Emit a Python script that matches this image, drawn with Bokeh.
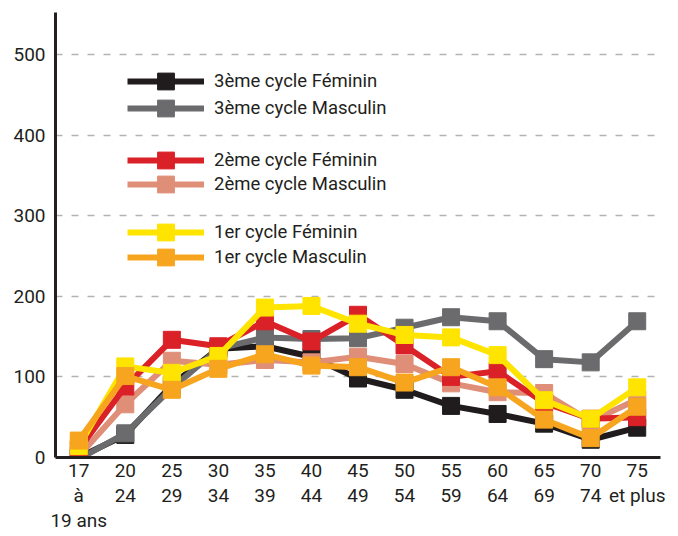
from bokeh.plotting import figure
from bokeh.models import Legend, LegendItem, Range1d, FixedTicker
from bokeh.embed import file_html
from bokeh.resources import INLINE

# ---- data ----
age_labels = ["17\nà\n19 ans", "20\n24", "25\n29", "30\n34", "35\n39", "40\n44",
              "45\n49", "50\n54", "55\n59", "60\n64", "65\n69", "70\n74", "75\net plus"]
y_ticks = [0, 100, 200, 300, 400, 500]

cycle3_feminin = [0, 28, 90, 135, 138, 125, 98, 84, 64, 54, 42, 22, 37]
cycle3_masculin = [-2, 30, 86, 135, 149, 147, 148, 161, 174, 169, 122, 118, 169]
cycle2_feminin = [10, 88, 146, 138, 169, 144, 177, 139, 100, 107, 68, 48, 50]
cycle2_masculin = [2, 66, 120, 115, 121, 118, 125, 116, 92, 81, 80, 45, 72]
cycle1_feminin = [14, 113, 105, 126, 186, 188, 166, 152, 149, 127, 71, 48, 87]
cycle1_masculin = [21, 101, 84, 110, 128, 114, 112, 93, 112, 87, 47, 24, 63]

series = [
    ("3ème cycle Féminin", cycle3_feminin, "#201c1d"),
    ("3ème cycle Masculin", cycle3_masculin, "#6b6b6d"),
    ("2ème cycle Masculin", cycle2_masculin, "#df8e78"),
    ("2ème cycle Féminin", cycle2_feminin, "#da2128"),
    ("1er cycle Féminin", cycle1_feminin, "#ffe400"),
    ("1er cycle Masculin", cycle1_masculin, "#f7a51f"),
]

FONT = "Roboto"
TXT = "#231f20"

xs = list(range(len(age_labels)))

p = figure(width=672, height=535,
           x_range=Range1d(-0.5, len(age_labels) - 0.5),
           y_range=Range1d(0, 552),
           output_backend="svg", toolbar_location=None,
           min_border_left=55, min_border_right=12,
           min_border_top=12, min_border_bottom=60)

p.outline_line_color = None
p.background_fill_color = "white"
p.border_fill_color = "white"

renderers = {}
for name, vals, col in series:
    ln = p.line(xs, vals, line_color=col, line_width=6)
    sc = p.scatter(xs, vals, marker="square", size=17, fill_color=col, line_color=col)
    renderers[name] = [ln, sc]

# axes
p.xaxis.ticker = FixedTicker(ticks=xs)
p.xaxis.major_label_overrides = {i: lab for i, lab in enumerate(age_labels)}
p.yaxis.ticker = FixedTicker(ticks=y_ticks)
for ax in (p.xaxis[0], p.yaxis[0]):
    ax.axis_line_width = 3
    ax.axis_line_color = TXT
    ax.major_tick_line_color = None
    ax.minor_tick_line_color = None
    ax.major_tick_out = 0
    ax.major_tick_in = 0
    ax.major_label_text_font = FONT
    ax.major_label_text_font_size = "19px"
    ax.major_label_text_color = TXT
p.xaxis.major_label_standoff = 1
p.xaxis.major_label_text_line_height = 1.1
p.yaxis.major_label_standoff = 10

p.xgrid.visible = False
p.ygrid.ticker = FixedTicker(ticks=y_ticks[1:])
p.ygrid.grid_line_color = "#b3b3b3"
p.ygrid.grid_line_width = 1.5
p.ygrid.grid_line_dash = "7 9"

FRAME_BOTTOM = 457  # page y of the frame bottom (value 0)
def make_legend(name, row_y):
    leg = Legend(items=[LegendItem(label=name, renderers=renderers[name])],
                 location=(72, FRAME_BOTTOM - (row_y + 21)), padding=0, margin=0,
                 glyph_width=77, glyph_height=42, label_height=20,
                 label_standoff=10, border_line_alpha=0,
                 background_fill_alpha=0,
                 label_text_font=FONT, label_text_font_size="18.5px",
                 label_text_color=TXT)
    p.add_layout(leg)

make_legend("3ème cycle Féminin", 81)
make_legend("3ème cycle Masculin", 108)
make_legend("2ème cycle Féminin", 160)
make_legend("2ème cycle Masculin", 184)
make_legend("1er cycle Féminin", 232)
make_legend("1er cycle Masculin", 257)

open("out.html", "w").write(file_html(p, INLINE))
